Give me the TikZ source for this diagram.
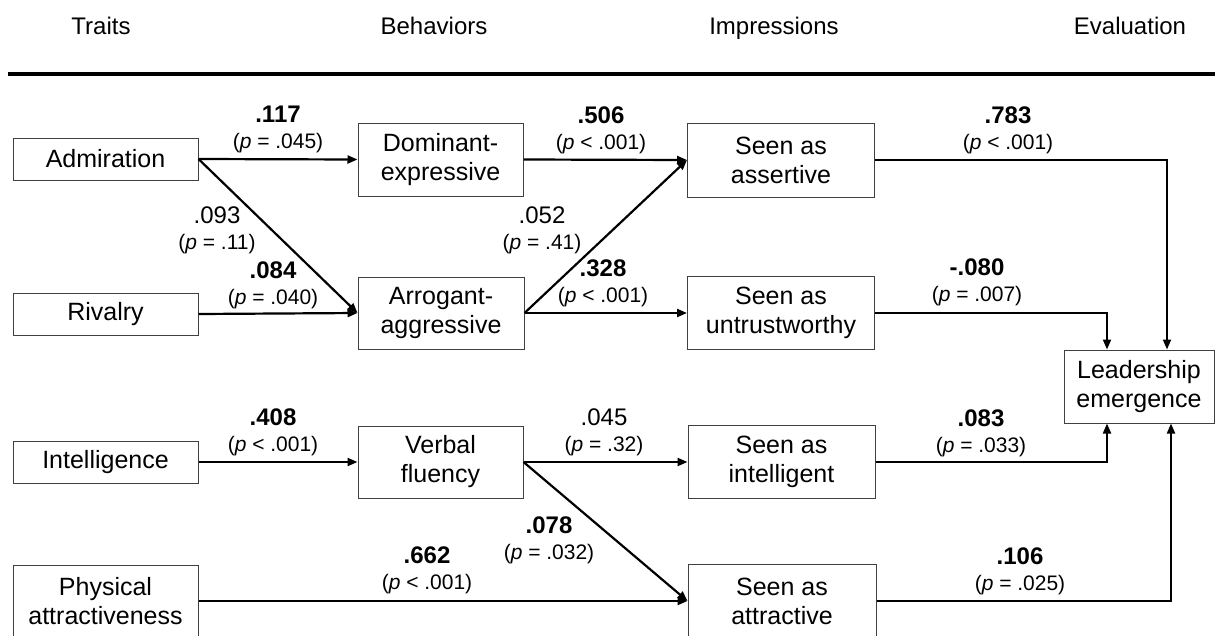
\documentclass[tikz,border=0pt]{standalone}
\usepackage{fontspec}
\setmainfont{Liberation Sans}
\usetikzlibrary{arrows.meta}
\newcommand{\coefnum}[1]{{\fontsize{24}{26}\selectfont #1}}
\begin{document}
\begin{tikzpicture}[x=1pt,y=-1pt,
  varbox/.style={draw=black!75,line width=1pt,inner sep=0pt,align=center,
    font=\fontsize{25}{29}\selectfont},
  coef/.style={align=center,inner sep=0pt,font=\fontsize{21}{26}\selectfont},
  head/.style={inner sep=0pt,anchor=base,font=\fontsize{24}{28}\selectfont},
  path/.style={line width=2.2pt,-{Triangle[length=10pt,width=8pt]}},
  outpath/.style={line width=2pt,-{Triangle[length=10pt,width=8pt]}}]
\useasboundingbox (0,0) rectangle (1215,635);

% column headings and rule
\node[head] (hTraits) at (101,34) {Traits};
\node[head] (hBeh) at (434,34) {Behaviors};
\node[head] (hImp) at (774,34) {Impressions};
\node[head] (hEval) at (1130,34) {Evaluation};
\coordinate (ruleL) at (8,74);
\coordinate (ruleR) at (1215,74);
\draw[line width=4pt] (ruleL) -- (ruleR);

% traits
\node[varbox,minimum width=185pt,minimum height=42pt] (adm) at (105.5,159) {Admiration};
\node[varbox,minimum width=185pt,minimum height=42pt] (riv) at (105.5,314) {Rivalry};
\node[varbox,minimum width=185pt,minimum height=42pt] (intel) at (105.5,462) {Intelligence};
\node[varbox,minimum width=185pt,minimum height=72pt] (phys) at (105.5,601) {Physical\\attractiveness};

% behaviors
\node[varbox,minimum width=165pt,minimum height=73pt] (dom) at (440.5,159.5) {Dominant-\\expressive};
\node[varbox,minimum width=166pt,minimum height=72pt] (arro) at (441,313) {Arrogant-\\aggressive};
\node[varbox,minimum width=165pt,minimum height=72pt] (verb) at (440.5,462) {Verbal\\fluency};

% impressions
\node[varbox,minimum width=187pt,minimum height=74pt] (asrt) at (781,160) {Seen as\\assertive};
\node[varbox,minimum width=187pt,minimum height=73pt] (untr) at (781,313) {Seen as\\untrustworthy};
\node[varbox,minimum width=187pt,minimum height=73pt] (intl) at (781.5,462) {Seen as\\intelligent};
\node[varbox,minimum width=188pt,minimum height=73pt] (attr) at (782,601) {Seen as\\attractive};

% evaluation
\node[varbox,minimum width=150pt,minimum height=73pt] (lead) at (1139,386.5) {Leadership\\emergence};

% columns where the paths enter the outcome box
\coordinate (colA) at (1107,0);
\coordinate (colB) at (1167,0);
\coordinate (colC) at (1171,0);

% paths
\draw[path] (adm.east) -- (dom.west);
\draw[path] (adm.east) -- (arro.west);
\draw[path] (riv.east) -- (arro.west);
\draw[path] (dom.east) -- (asrt.west);
\draw[path] (arro.east) -- (asrt.west);
\draw[path] (arro.east) -- (untr.west);
\draw[path] (intel.east) -- (verb.west);
\draw[path] (verb.east) -- (intl.west);
\draw[path] (verb.east) -- (attr.west);
\draw[path] (phys.east) -- (attr.west);
\draw[outpath] (asrt.east) -| (lead.north -| colB);
\draw[outpath] (untr.east) -| (lead.north -| colA);
\draw[outpath] (intl.east) -| (lead.south -| colA);
\draw[outpath] (attr.east) -| (lead.south -| colC);

% path coefficients
\node[coef] (c1) at (278,129) {\coefnum{\textbf{.117}}\\(\textit{p} = .045)};
\node[coef] (c2) at (217,230) {\coefnum{.093}\\(\textit{p} = .11)};
\node[coef] (c3) at (273,285) {\coefnum{\textbf{.084}}\\(\textit{p} = .040)};
\node[coef] (c4) at (601,130) {\coefnum{\textbf{.506}}\\(\textit{p} < .001)};
\node[coef] (c5) at (542,230) {\coefnum{.052}\\(\textit{p} = .41)};
\node[coef] (c6) at (603,283) {\coefnum{\textbf{.328}}\\(\textit{p} < .001)};
\node[coef] (c7) at (1008,130) {\coefnum{\textbf{.783}}\\(\textit{p} < .001)};
\node[coef] (c8) at (977,282) {\coefnum{\textbf{-.080}}\\(\textit{p} = .007)};
\node[coef] (c9) at (273,432) {\coefnum{\textbf{.408}}\\(\textit{p} < .001)};
\node[coef] (c10) at (604,432) {\coefnum{.045}\\(\textit{p} = .32)};
\node[coef] (c11) at (981,433) {\coefnum{\textbf{.083}}\\(\textit{p} = .033)};
\node[coef] (c12) at (549,540) {\coefnum{\textbf{.078}}\\(\textit{p} = .032)};
\node[coef] (c13) at (427,570) {\coefnum{\textbf{.662}}\\(\textit{p} < .001)};
\node[coef] (c14) at (1020,571) {\coefnum{\textbf{.106}}\\(\textit{p} = .025)};
\end{tikzpicture}
\end{document}
